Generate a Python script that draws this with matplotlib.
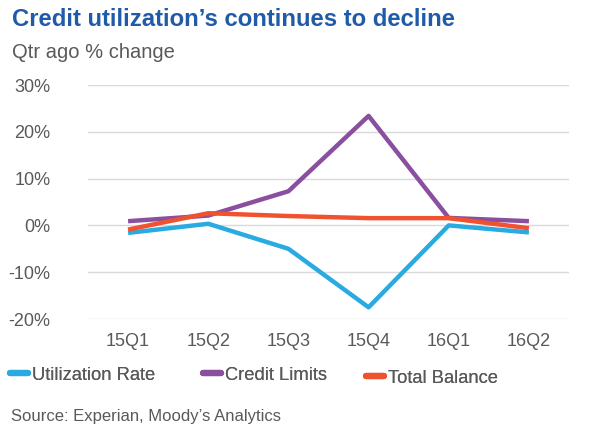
import matplotlib.pyplot as plt
from matplotlib.lines import Line2D

plt.rcParams['font.family'] = ['Liberation Sans', 'DejaVu Sans']

quarters = ['15Q1', '15Q2', '15Q3', '15Q4', '16Q1', '16Q2']
utilization = [-1.6, 0.35, -5.0, -17.5, 0.0, -1.5]
credit_limits = [0.9, 2.1, 7.3, 23.4, 1.6, 0.9]
total_balance = [-0.9, 2.6, 2.0, 1.55, 1.55, -0.6]
yticks = [-20, -10, 0, 10, 20, 30]
series_names = ['Utilization Rate', 'Credit Limits', 'Total Balance']

BLUE = '#29abe2'
PURPLE = '#8a4f9e'
RED = '#f0512e'
GRAY = '#595959'

fig = plt.figure(figsize=(6, 4.4), dpi=100)
ax = fig.add_axes([88 / 600, 1 - 319 / 440, 481 / 600, 234 / 440])

x = range(len(quarters))
ax.plot(x, utilization, color=BLUE, lw=3.2, solid_capstyle='butt')
ax.plot(x, credit_limits, color=PURPLE, lw=3.2, solid_capstyle='butt')
ax.plot(x, total_balance, color=RED, lw=3.2, solid_capstyle='butt')

ax.set_xlim(-0.5, len(quarters) - 0.5)
ax.set_ylim(-20, 30)
ax.set_yticks(yticks)
ax.set_yticklabels(['%d%%' % v for v in yticks])
ax.set_xticks(list(x))
ax.set_xticklabels(quarters)
ax.grid(axis='y', color='#d9d9d9', lw=1)
ax.set_axisbelow(True)
for s in ax.spines.values():
    s.set_visible(False)
ax.tick_params(length=0, labelsize=13, labelcolor=GRAY)
ax.tick_params(axis='y', pad=27)
ax.tick_params(axis='x', pad=10)

fig.text(12 / 600, 1 - 19 / 440, 'Credit utilization\u2019s continues to decline',
         fontsize=17.2, fontweight='bold', color='#1f5ba8', va='center')
fig.text(12 / 600, 1 - 52 / 440, 'Qtr ago % change', fontsize=14.5, color=GRAY, va='center')
fig.text(11 / 600, 1 - 416 / 440, 'Source: Experian, Moody\u2019s Analytics',
         fontsize=12, color=GRAY, va='center')

# legend entries placed individually, like the reference
leg_x = [10, 203, 366]
leg_y = [375, 375, 378]
for name, c, lx, ly in zip(series_names, (BLUE, PURPLE, RED), leg_x, leg_y):
    h = Line2D([], [], color=c, lw=4.5, solid_capstyle='round')
    leg = fig.legend([h], [name], loc='center left',
                     bbox_to_anchor=(lx / 600, 1 - ly / 440), frameon=False,
                     fontsize=13.2, handlelength=1.0, handletextpad=0.2,
                     labelcolor=GRAY, borderaxespad=0, borderpad=0)
    fig.add_artist(leg)

fig.savefig('out.png', dpi=100)
